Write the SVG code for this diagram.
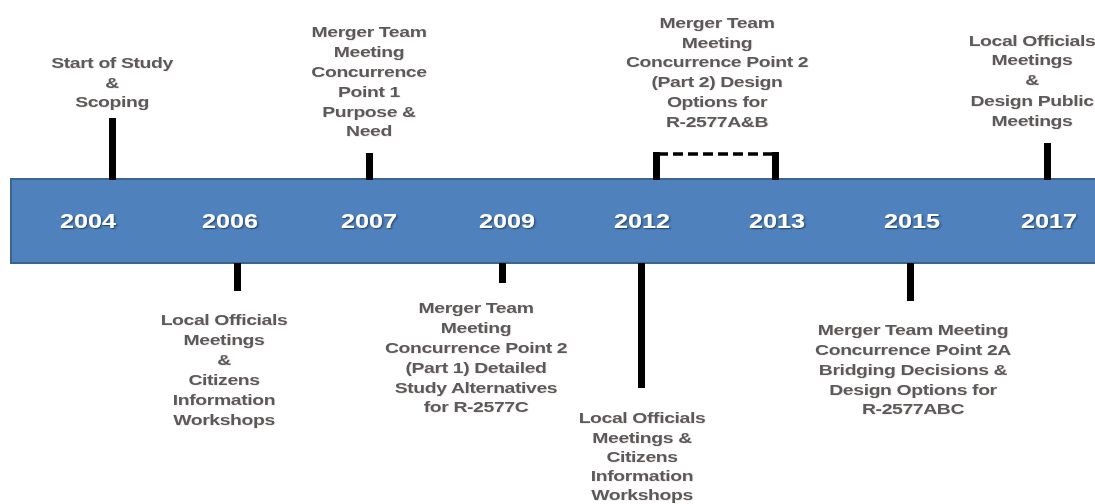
<svg xmlns="http://www.w3.org/2000/svg" width="1095" height="504" viewBox="0 0 1095 504">
<defs>
<filter id="ysh" x="-20%" y="-30%" width="140%" height="160%"><feDropShadow dx="1" dy="1.2" stdDeviation="0.7" flood-color="#1f3550" flood-opacity="0.75"/></filter>
<filter id="lsh" x="-10%" y="-10%" width="120%" height="120%"><feDropShadow dx="0.5" dy="0.5" stdDeviation="0.4" flood-color="#c9a27a" flood-opacity="0.35"/></filter>
</defs>
<style>
.lbl{font-family:"Liberation Sans",Arial,sans-serif;font-weight:bold;font-size:15.5px;fill:#585a60;text-anchor:middle;letter-spacing:-0.3px;filter:url(#lsh)}
.yr{font-family:"Liberation Sans",Arial,sans-serif;font-weight:bold;font-size:21px;fill:#ffffff;text-anchor:middle;filter:url(#ysh)}
.tick{fill:#000000}
</style>
<rect width="1095" height="504" fill="#ffffff"/>
<g id="band">
<rect x="11" y="179" width="1090" height="84" fill="#4f81bd" stroke="#3b6494" stroke-width="2"/>
</g>
<g id="connectors">
<rect class="tick" x="109" y="118" width="7" height="62"/>
<rect class="tick" x="366" y="153" width="7" height="27"/>
<rect class="tick" x="653" y="152" width="7" height="28"/>
<rect class="tick" x="772" y="152" width="7" height="28"/>
<line x1="658" y1="154" x2="774" y2="154" stroke="#000" stroke-width="3.5" stroke-dasharray="10,5"/>
<rect class="tick" x="1044" y="143" width="7" height="37"/>
<rect class="tick" x="234" y="263" width="7" height="28"/>
<rect class="tick" x="499" y="263" width="7" height="20"/>
<rect class="tick" x="638" y="263" width="7" height="125"/>
<rect class="tick" x="907" y="263" width="7" height="38"/>
</g>
<g id="years">
<g transform="translate(88,0) scale(1.2,1)"><text class="yr" x="0" y="228">2004</text></g>
<g transform="translate(230,0) scale(1.2,1)"><text class="yr" x="0" y="228">2006</text></g>
<g transform="translate(369,0) scale(1.2,1)"><text class="yr" x="0" y="228">2007</text></g>
<g transform="translate(507,0) scale(1.2,1)"><text class="yr" x="0" y="228">2009</text></g>
<g transform="translate(642,0) scale(1.2,1)"><text class="yr" x="0" y="228">2012</text></g>
<g transform="translate(777,0) scale(1.2,1)"><text class="yr" x="0" y="228">2013</text></g>
<g transform="translate(912,0) scale(1.2,1)"><text class="yr" x="0" y="228">2015</text></g>
<g transform="translate(1049,0) scale(1.2,1)"><text class="yr" x="0" y="228">2017</text></g>
</g>
<g id="n2004" transform="translate(112,0) scale(1.25,1)">
<text class="lbl"><tspan x="0" y="68">Start of Study</tspan><tspan x="0" y="88">&amp;</tspan><tspan x="0" y="107">Scoping</tspan></text>
</g>
<g id="n2007" transform="translate(369,0) scale(1.25,1)">
<text class="lbl"><tspan x="0" y="37">Merger Team</tspan><tspan x="0" y="57">Meeting</tspan><tspan x="0" y="77">Concurrence</tspan><tspan x="0" y="97">Point 1</tspan><tspan x="0" y="117">Purpose &amp;</tspan><tspan x="0" y="136">Need</tspan></text>
</g>
<g id="n2012top" transform="translate(717,0) scale(1.25,1)">
<text class="lbl"><tspan x="0" y="28">Merger Team</tspan><tspan x="0" y="48">Meeting</tspan><tspan x="0" y="67">Concurrence Point 2</tspan><tspan x="0" y="87">(Part 2) Design</tspan><tspan x="0" y="107">Options for</tspan><tspan x="0" y="127">R-2577A&amp;B</tspan></text>
</g>
<g id="n2017" transform="translate(1032,0) scale(1.25,1)">
<text class="lbl"><tspan x="0" y="46">Local Officials</tspan><tspan x="0" y="65">Meetings</tspan><tspan x="0" y="85">&amp;</tspan><tspan x="0" y="106">Design Public</tspan><tspan x="0" y="126">Meetings</tspan></text>
</g>
<g id="n2006" transform="translate(224,0) scale(1.25,1)">
<text class="lbl"><tspan x="0" y="325">Local Officials</tspan><tspan x="0" y="345">Meetings</tspan><tspan x="0" y="365">&amp;</tspan><tspan x="0" y="385">Citizens</tspan><tspan x="0" y="405">Information</tspan><tspan x="0" y="425">Workshops</tspan></text>
</g>
<g id="n2009" transform="translate(476,0) scale(1.25,1)">
<text class="lbl"><tspan x="0" y="313">Merger Team</tspan><tspan x="0" y="333">Meeting</tspan><tspan x="0" y="353">Concurrence Point 2</tspan><tspan x="0" y="373">(Part 1) Detailed</tspan><tspan x="0" y="393">Study Alternatives</tspan><tspan x="0" y="412">for R-2577C</tspan></text>
</g>
<g id="n2012bottom" transform="translate(642,0) scale(1.25,1)">
<text class="lbl"><tspan x="0" y="423">Local Officials</tspan><tspan x="0" y="443">Meetings &amp;</tspan><tspan x="0" y="462">Citizens</tspan><tspan x="0" y="481">Information</tspan><tspan x="0" y="500">Workshops</tspan></text>
</g>
<g id="n2015" transform="translate(913,0) scale(1.25,1)">
<text class="lbl"><tspan x="0" y="335">Merger Team Meeting</tspan><tspan x="0" y="355">Concurrence Point 2A</tspan><tspan x="0" y="375">Bridging Decisions &amp;</tspan><tspan x="0" y="395">Design Options for</tspan><tspan x="0" y="414">R-2577ABC</tspan></text>
</g>
</svg>
